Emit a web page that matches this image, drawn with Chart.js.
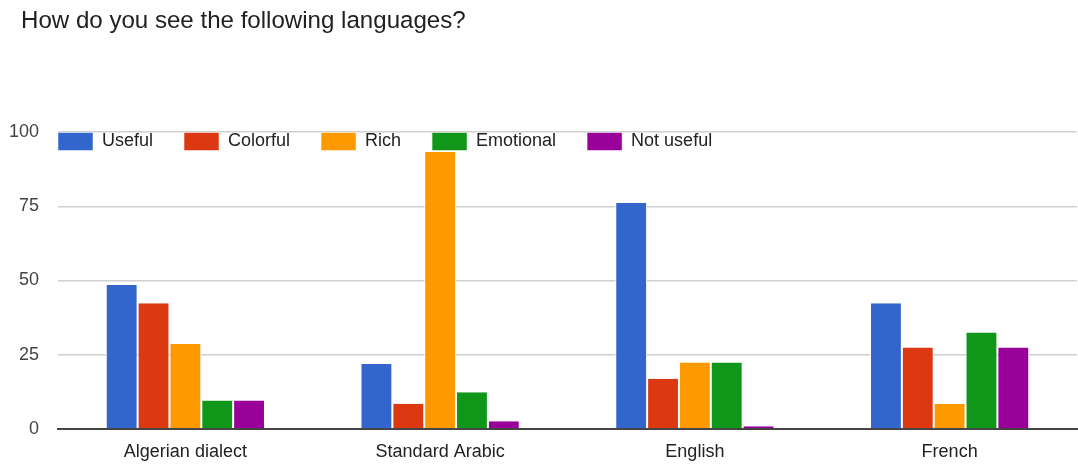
<!DOCTYPE html>
<html>
<head>
<meta charset="utf-8">
<script src="https://cdn.jsdelivr.net/npm/chart.js@4/dist/chart.umd.min.js"></script>
<style>
  html, body { margin: 0; padding: 0; background: #fff; }
  #wrap { position: relative; width: 1078px; height: 464px; }
</style>
</head>
<body>
<div id="wrap"><canvas id="c" width="1078" height="464"></canvas></div>
<script>
const titleText = "How do you see the following languages?";
const categories = ["Algerian dialect", "Standard Arabic", "English", "French"];
const seriesNames = ["Useful", "Colorful", "Rich", "Emotional", "Not useful"];
const seriesColors = ["#3366cc", "#dc3912", "#ff9900", "#109618", "#990099"];
const useful    = [48.5, 21.9, 76.1, 42.3];
const colorful  = [42.3, 8.5, 16.9, 27.4];
const rich      = [28.6, 93.3, 22.4, 8.5];
const emotional = [9.6, 12.4, 22.4, 32.5];
const notUseful = [9.6, 2.6, 0.9, 27.4];
const yMin = 0, yMax = 100, yStep = 25;

const seriesValues = [useful, colorful, rich, emotional, notUseful];

const FONT = "'Liberation Sans', Arial, sans-serif";
const LEGEND_GAP = 31;

const titlePlugin = {
  id: 'leftTitle',
  afterDraw(chart) {
    const ctx = chart.ctx;
    ctx.save();
    ctx.font = "24.1px " + FONT;
    ctx.fillStyle = "#212121";
    ctx.textBaseline = "alphabetic";
    ctx.textAlign = "left";
    ctx.fillText(titleText, 21, 27.5);
    ctx.restore();
  }
};

// Move the (top) legend into the chart area, like the reference
const legendShift = {
  id: 'legendShift',
  afterLayout(chart) {
    const lg = chart.legend;
    if (!lg) return;
    const h = lg.height;
    lg.left = chart.chartArea.left - LEGEND_GAP;
    lg.top = chart.chartArea.top - LEGEND_GAP + 0.5;
    lg.bottom = lg.top + h;
  }
};

const datasets = seriesNames.map((name, i) => ({
  label: name,
  data: seriesValues[i],
  backgroundColor: seriesColors[i],
  borderColor: "#ffffff",
  borderWidth: { left: 1, right: 1, top: 0, bottom: 0 },
  borderSkipped: false,
  categoryPercentage: 0.625,
  barPercentage: 1.0
}));

new Chart(document.getElementById('c'), {
  type: 'bar',
  data: { labels: categories, datasets },
  options: {
    responsive: false,
    animation: false,
    devicePixelRatio: 1,
    layout: { padding: { top: 73, left: 10, right: 1, bottom: 3 } },
    plugins: {
      title: { display: false },
      tooltip: { enabled: false },
      legend: {
        display: true,
        position: 'top',
        align: 'start',
        labels: {
          boxWidth: 35,
          boxHeight: 18,
          padding: LEGEND_GAP,
          color: "#222222",
          font: { family: FONT, size: 18 }
        }
      }
    },
    scales: {
      x: {
        afterFit(scale) { scale.height = 32; },
        grid: { display: false, drawTicks: false },
        border: { display: true, color: "#444444", width: 2 },
        ticks: { color: "#222222", font: { family: FONT, size: 18 }, padding: 12, maxRotation: 0 }
      },
      y: {
        min: yMin,
        max: yMax,
        afterFit(scale) { scale.width = 48; },
        grid: { color: "#d0d0d0", lineWidth: 1.5, drawTicks: false },
        border: { display: false },
        ticks: { stepSize: yStep, color: "#444444", font: { family: FONT, size: 18 }, padding: 19 }
      }
    }
  },
  plugins: [titlePlugin, legendShift]
});
</script>
</body>
</html>
